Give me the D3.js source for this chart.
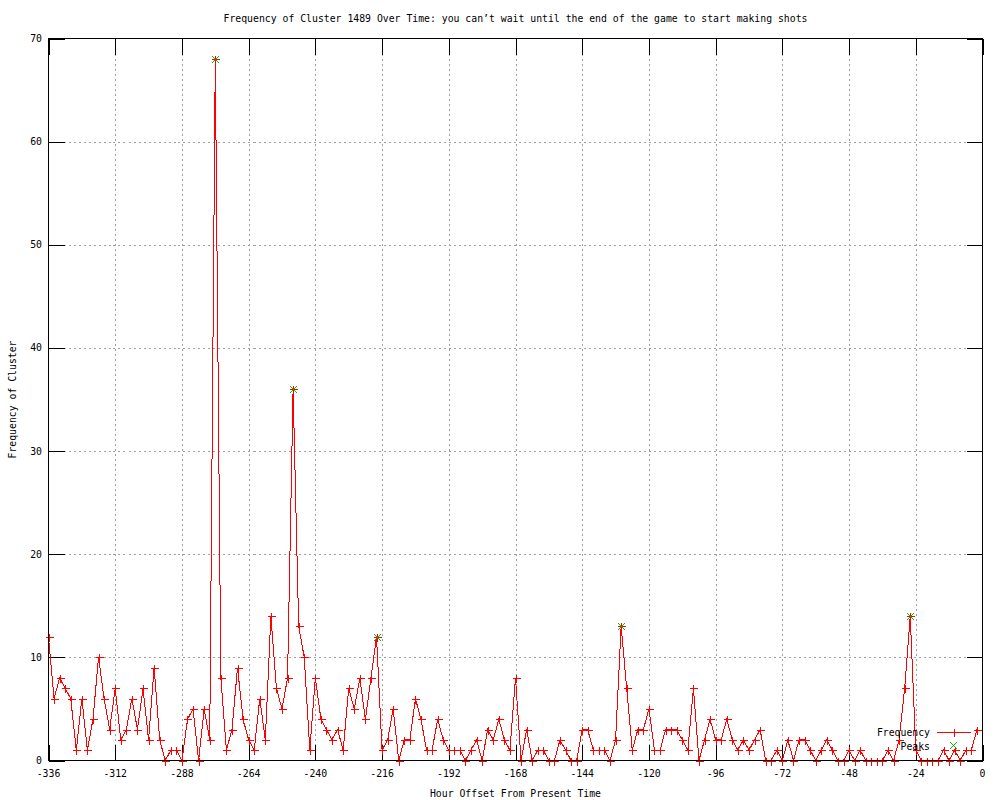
<!DOCTYPE html>
<html>
<head>
<meta charset="utf-8">
<script src="https://cdn.jsdelivr.net/npm/d3@7"></script>
<style>
  body { margin: 0; background: #fff; }
  text { font-family: "DejaVu Sans Mono", "Liberation Mono", monospace; font-size: 9.8px; fill: #000; }
</style>
</head>
<body>
<div id="chart"></div>
<script>
// frequency per 2-hour bucket, from -336h up to -2h
var counts = [
    12, 6, 8, 7, 6, 1, 6, 1, 4, 10, 6, 3, 7, 2, 3, 6, 3,
    7, 2, 9, 2, 0, 1, 1, 0, 4, 5, 0, 5, 2, 68, 8, 1, 3,
    9, 4, 2, 1, 6, 2, 14, 7, 5, 8, 36, 13, 10, 1, 8, 4, 3,
    2, 3, 1, 7, 5, 8, 4, 8, 12, 1, 2, 5, 0, 2, 2, 6, 4,
    1, 1, 4, 2, 1, 1, 1, 0, 1, 2, 0, 3, 2, 4, 2, 1, 8,
    0, 3, 0, 1, 1, 0, 0, 2, 1, 0, 0, 3, 3, 1, 1, 1, 0, 2,
    13, 7, 1, 3, 3, 5, 1, 1, 3, 3, 3, 2, 1, 7, 0, 2, 4,
    2, 2, 4, 2, 1, 2, 1, 2, 3, 0, 0, 1, 0, 2, 0, 2, 2,
    1, 0, 1, 2, 1, 0, 0, 1, 0, 1, 0, 0, 0, 0, 1, 0, 2,
    7, 14, 1, 0, 0, 0, 0, 1, 0, 1, 0, 1, 1, 3
];
var hours = counts.map(function(d, i) { return -336 + 2 * i; });

var peakHours = [-276, -248, -218, -130, -26];
var peakValues = [68, 36, 12, 13, 14];

var xTicks = d3.range(-336, 1, 24);
var yTicks = d3.range(0, 71, 10);

var width = 1000, height = 800;
var pLeft = 48.5, pRight = 982.5, pTop = 38.5, pBottom = 760.5;
var tickLen = 16;

var x = d3.scaleLinear().domain([-336, 0]).range([pLeft, pRight]);
var y = d3.scaleLinear().domain([0, 70]).range([pBottom, pTop]);

var svg = d3.select("#chart").append("svg")
    .attr("width", width)
    .attr("height", height);

// grid
var grid = svg.append("g")
    .attr("stroke", "#a0a0a0")
    .attr("stroke-dasharray", "2,3")
    .attr("shape-rendering", "crispEdges");
grid.selectAll(".gx")
    .data(xTicks.slice(1, -1))
    .enter().append("line")
    .attr("x1", function(d) { return Math.round(x(d)) + 0.5; })
    .attr("x2", function(d) { return Math.round(x(d)) + 0.5; })
    .attr("y1", pTop).attr("y2", pBottom);
grid.selectAll(".gy")
    .data(yTicks.slice(1, -1))
    .enter().append("line")
    .attr("y1", function(d) { return Math.round(y(d)) + 0.5; })
    .attr("y2", function(d) { return Math.round(y(d)) + 0.5; })
    .attr("x1", pLeft).attr("x2", pRight);

// ticks on all four sides
var ticks = svg.append("g")
    .attr("stroke", "#000")
    .attr("shape-rendering", "crispEdges");
xTicks.forEach(function(t) {
    var px = Math.round(x(t)) + 0.5;
    ticks.append("line").attr("x1", px).attr("x2", px).attr("y1", pBottom).attr("y2", pBottom - tickLen);
    ticks.append("line").attr("x1", px).attr("x2", px).attr("y1", pTop).attr("y2", pTop + tickLen);
});
yTicks.forEach(function(t) {
    var py = Math.round(y(t)) + 0.5;
    ticks.append("line").attr("y1", py).attr("y2", py).attr("x1", pLeft).attr("x2", pLeft + tickLen);
    ticks.append("line").attr("y1", py).attr("y2", py).attr("x1", pRight).attr("x2", pRight - tickLen);
});

// tick labels
svg.selectAll(".xl")
    .data(xTicks)
    .enter().append("text")
    .attr("x", function(d) { return x(d); })
    .attr("y", 777)
    .attr("text-anchor", "middle")
    .text(function(d) { return d; });
svg.selectAll(".yl")
    .data(yTicks)
    .enter().append("text")
    .attr("x", 42)
    .attr("y", function(d) { return y(d) + 3.5; })
    .attr("text-anchor", "end")
    .text(function(d) { return d; });

// frequency line
var line = d3.line()
    .x(function(d, i) { return x(hours[i]); })
    .y(function(d) { return y(d); });
svg.append("path")
    .datum(counts)
    .attr("d", line)
    .attr("fill", "none")
    .attr("stroke", "#ff0000")
    .attr("stroke-width", 1)
    .attr("shape-rendering", "crispEdges");

function plus(g, cx, cy, r, color) {
    g.append("path")
        .attr("d", "M" + (cx - r) + "," + cy + "H" + (cx + r) + "M" + cx + "," + (cy - r) + "V" + (cy + r))
        .attr("stroke", color).attr("fill", "none")
        .attr("shape-rendering", "crispEdges");
}
function cross(g, cx, cy, r, color) {
    g.append("path")
        .attr("d", "M" + (cx - r) + "," + (cy - r) + "L" + (cx + r) + "," + (cy + r) +
                   "M" + (cx - r) + "," + (cy + r) + "L" + (cx + r) + "," + (cy - r))
        .attr("stroke", color).attr("fill", "none")
        .attr("shape-rendering", "crispEdges");
}

var pts = svg.append("g");
counts.forEach(function(d, i) {
    plus(pts, Math.round(x(hours[i])) + 0.5, Math.round(y(d)) + 0.5, 4, "#ff0000");
});

var peaks = svg.append("g");
peakValues.forEach(function(d, i) {
    cross(peaks, Math.round(x(peakHours[i])) + 0.5, Math.round(y(d)) + 0.5, 3.5, "#00c000");
});

// border
svg.append("rect")
    .attr("x", pLeft).attr("y", pTop)
    .attr("width", pRight - pLeft).attr("height", pBottom - pTop)
    .attr("fill", "none").attr("stroke", "#000")
    .attr("shape-rendering", "crispEdges");

// legend
svg.append("text").attr("x", 930).attr("y", 736).attr("text-anchor", "end").text("Frequency");
svg.append("line")
    .attr("x1", 937).attr("x2", 971).attr("y1", 732.5).attr("y2", 732.5)
    .attr("stroke", "#ff0000").attr("shape-rendering", "crispEdges");
plus(svg, 954.5, 732.5, 4, "#ff0000");
svg.append("text").attr("x", 930).attr("y", 749.5).attr("text-anchor", "end").text("Peaks");
cross(svg, 953.5, 745.5, 3.5, "#00c000");

// titles
svg.append("text")
    .attr("x", (pLeft + pRight) / 2).attr("y", 22)
    .attr("text-anchor", "middle")
    .text("Frequency of Cluster 1489 Over Time: you can\u2019t wait until the end of the game to start making shots");
svg.append("text")
    .attr("x", (pLeft + pRight) / 2).attr("y", 797)
    .attr("text-anchor", "middle")
    .text("Hour Offset From Present Time");
svg.append("text")
    .attr("transform", "translate(16," + ((pTop + pBottom) / 2) + ") rotate(-90)")
    .attr("text-anchor", "middle")
    .text("Frequency of Cluster");
</script>
</body>
</html>
